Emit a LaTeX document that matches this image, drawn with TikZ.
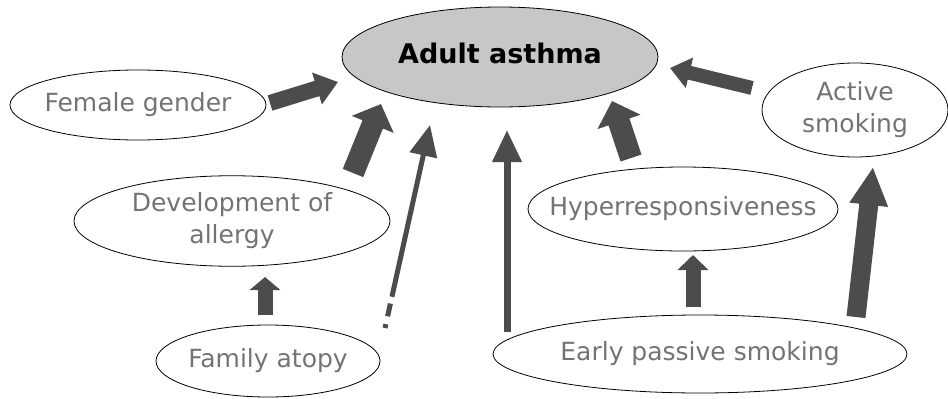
\documentclass[tikz,border=0pt]{standalone}
\usepackage{fontspec}
\setmainfont{DejaVu Sans}
\usetikzlibrary{shapes.geometric, arrows.meta, calc}
\usepackage{xcolor}
\definecolor{arrowGray}{gray}{0.3}
\definecolor{textGray}{gray}{0.45}
\definecolor{fillGray}{gray}{0.78}
% text of fixed size inside an ellipse
\newcommand{\ovaltext}[1]{\makebox[0pt]{\begin{tabular}{@{}c@{}}#1\end{tabular}}}
\tikzset{
    % Shapes
    factor/.style={ellipse, draw=black, thick, inner sep=0pt, text=textGray,
                   font=\fontsize{25}{32}\selectfont},
    outcome/.style={factor, fill=fillGray, text=black,
                    font=\fontsize{27}{32}\selectfont\bfseries},
    % Arrows
    fat/.style n args={3}{draw=arrowGray, line width=#1, -{Triangle[width=#2, length=#3]}}
}
\begin{document}
\begin{tikzpicture}[x=1pt, y=-1pt]
\useasboundingbox (0,0) rectangle (948,399);

% Factors
\node[outcome, minimum width=316pt, minimum height=100pt] (adult) at (500,57) {\ovaltext{Adult asthma}};
\node[factor, minimum width=256pt, minimum height=70pt] (female) at (138,105) {\ovaltext{Female gender}};
\node[factor, minimum width=316pt, minimum height=88pt] (allergy) at (232,221) {\ovaltext{Development of\\allergy}};
\node[factor, minimum width=224pt, minimum height=72pt] (atopy) at (268,361) {\ovaltext{Family atopy}};
\node[factor, minimum width=310pt, minimum height=84pt] (hyper) at (683,209) {\ovaltext{Hyperresponsiveness}};
\node[factor, minimum width=414pt, minimum height=78pt] (passive) at (700,354) {\ovaltext{Early passive smoking}};
\node[factor, minimum width=186pt, minimum height=94pt] (active) at (855,110) {\ovaltext{Active\\smoking}};

% Effects on adult asthma
\draw[fat={16pt}{32pt}{22pt}] ($(female)+(132,-2)$) -- ($(adult)+(-162,25)$);
\draw[fat={22pt}{44pt}{22pt}] ($(allergy)+(121,-48)$) -- ($(adult)+(-119,47)$);
\draw[fat={5pt}{27pt}{31pt}, dash pattern=on 4pt off 8pt on 13pt off 7pt on 400pt]
    ($(atopy)+(117,-33)$) -- ($(adult)+(-70,68)$);
\draw[fat={7pt}{28pt}{32pt}] ($(passive)+(-193,-22)$) -- ($(adult)+(7,73)$);
\draw[fat={22pt}{44pt}{22pt}] ($(hyper)+(-52,-51)$) -- ($(adult)+(112,44)$);
\draw[fat={14pt}{30pt}{20pt}] ($(active)+(-103,-22)$) -- ($(adult)+(170,11)$);

% Other paths
\draw[fat={15pt}{30pt}{15pt}] ($(passive)+(-7,-47)$) -- ($(hyper)+(10,46)$);
\draw[fat={19pt}{36pt}{38pt}] ($(passive)+(156,-37)$) -- ($(active)+(18,57)$);
\draw[fat={15pt}{30pt}{13pt}] ($(atopy)+(-3,-46)$) -- ($(allergy)+(33,56)$);

\end{tikzpicture}
\end{document}
